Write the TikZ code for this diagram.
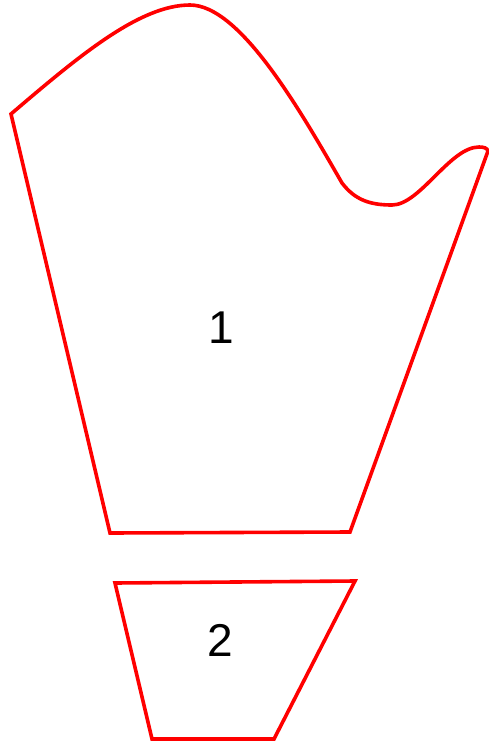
\documentclass[tikz,border=0pt]{standalone}
\usepackage{fontspec}
\setmainfont{Liberation Sans}
\begin{document}
\begin{tikzpicture}[x=1pt,y=-1pt,
  piece/.style={draw=red,line width=3.6pt,line join=miter},
  num/.style={font=\fontsize{46}{46}\selectfont,inner sep=0pt}]
\useasboundingbox (0,0) rectangle (489,745);
\draw[piece] (11,114) .. controls (80,55) and (140,5) .. (190,5)
  .. controls (240,5) and (300,110) .. (342,183)
  .. controls (355,200) and (370,205) .. (392,205)
  .. controls (420,205) and (450,147) .. (479,147)
  .. controls (484,147) and (487,148) .. (488,151)
  -- (350,532) -- (110,533) -- cycle;
\draw[piece] (115,583) -- (355,581) -- (274,739) -- (152,739) -- cycle;
\node[num] (n1) at (221,328) {1};
\node[num] (n2) at (220,640) {2};
\end{tikzpicture}
\end{document}
